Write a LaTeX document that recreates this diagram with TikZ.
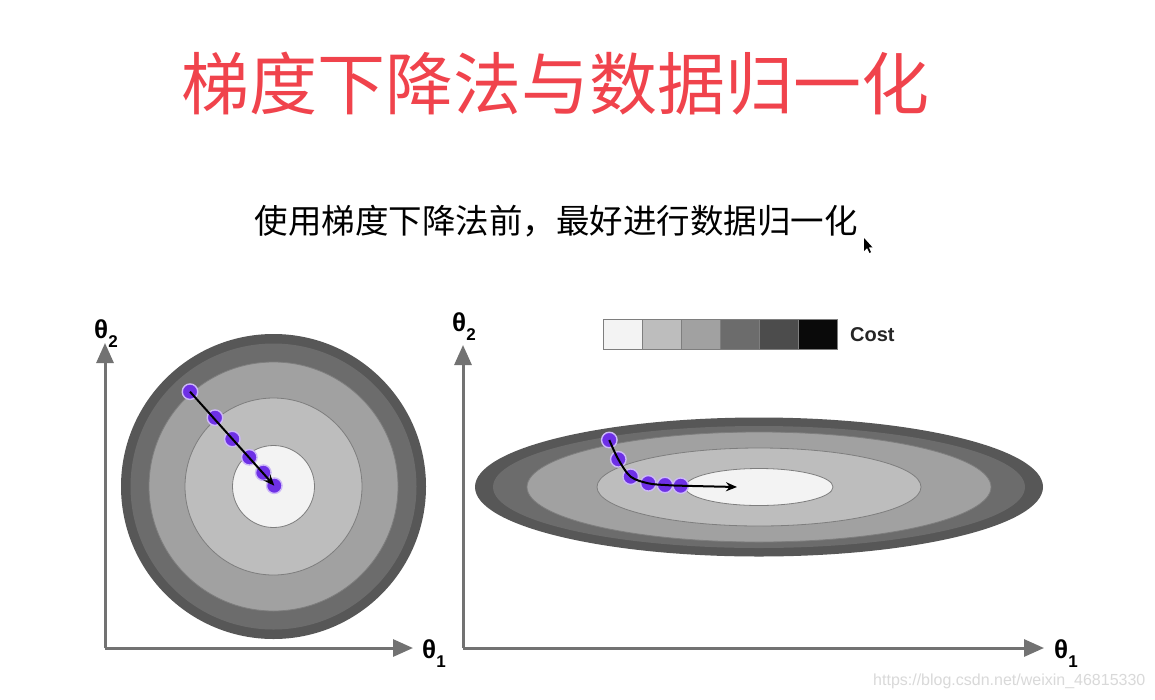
\documentclass[tikz,border=0pt]{standalone}
\usepackage{fontspec}
\newfontfamily\cjk{Noto Sans CJK SC}
\newfontfamily\arialf{Liberation Sans}
\usetikzlibrary{arrows.meta}
\definecolor{titlered}{HTML}{F0434C}
\definecolor{axisgray}{HTML}{727272}
\definecolor{ringline}{HTML}{7E7E7E}
\definecolor{gA}{HTML}{F3F3F3}
\definecolor{gB}{HTML}{BDBDBD}
\definecolor{gC}{HTML}{A1A1A1}
\definecolor{gD}{HTML}{6C6C6C}
\definecolor{gE}{HTML}{4C4C4C}
\definecolor{gF}{HTML}{0A0A0A}
\definecolor{gOut}{HTML}{575757}
\definecolor{dotpurple}{HTML}{6E30E6}
\definecolor{dothalo}{HTML}{CDB8F8}
\definecolor{wmgray}{HTML}{D9D9D9}
\newcommand{\thetalab}[1]{{\arialf\bfseries\fontsize{26pt}{26pt}\selectfont θ\raisebox{-0.38em}{\fontsize{17pt}{17pt}\selectfont #1}}}
\begin{document}
\begin{tikzpicture}[x=1pt,y=-1pt,
  axis/.style={draw=axisgray, line width=3pt, -{Triangle[length=20pt,width=17pt]}},
  ring/.style={draw=ringline, line width=0.8pt},
  dot/.style={circle, fill=dotpurple, draw=dothalo, line width=1.4pt, minimum size=15.5pt, inner sep=0pt},
  path/.style={draw=black, line width=2pt, -{Stealth[length=11pt,width=9pt]}},
  cell/.style={draw=ringline, line width=0.8pt, minimum width=39pt, minimum height=30pt, inner sep=0pt},
  lab/.style={anchor=base west, inner sep=0pt}
]
\useasboundingbox[fill=white] (0,0) rectangle (1155,699);

% titles
\node[text=titlered, font=\cjk\fontsize{68pt}{68pt}\selectfont, inner sep=0pt] (title) at (555,84) {梯度下降法与数据归一化};
\node[text=black, font=\cjk\fontsize{33.5pt}{33.5pt}\selectfont, inner sep=0pt] (sub) at (556,221) {使用梯度下降法前，最好进行数据归一化};
% mouse cursor
\fill[black] (864,238) -- (864,251) -- (867,248) -- (869.5,253) -- (871,252.2) -- (868.8,247.4) -- (872.5,247.4) -- cycle;

% ---------------- left plot ----------------
\coordinate (L) at (273.5,486.5);
\fill[gOut] (L) circle[radius=152.5pt];
\fill[gD] (L) circle[radius=143pt];
\filldraw[fill=gC, ring] (L) circle[radius=124.5pt];
\filldraw[fill=gB, ring] (L) circle[radius=88.5pt];
\filldraw[fill=gA, ring] (L) circle[radius=41pt];

\coordinate (lo) at (105,648);
\coordinate (ly) at (105,343);
\coordinate (lx) at (413,648);
\draw[axis] (lo) -- (ly);
\draw[axis] (lo) -- (lx);
\node[lab] (lt2) at (94,338) {\thetalab{2}};
\node[lab] (lt1) at (422,658) {\thetalab{1}};

\node[dot] (p1) at (190,391.7) {};
\node[dot] (p2) at (215,417.7) {};
\node[dot] (p3) at (232.3,439) {};
\node[dot] (p4) at (249.3,457.3) {};
\node[dot] (p5) at (263.3,472.7) {};
\node[dot] (p6) at (274.3,485.7) {};
\draw[path] (p1.center) -- (p6.center);

% ---------------- right plot ----------------
\coordinate (R) at (759,487);
\fill[gOut] (R) ellipse[x radius=284pt, y radius=69.5pt];
\fill[gD] (R) ellipse[x radius=266pt, y radius=61pt];
\filldraw[fill=gC, ring] (R) ellipse[x radius=232pt, y radius=55pt];
\filldraw[fill=gB, ring] (R) ellipse[x radius=162pt, y radius=39pt];
\filldraw[fill=gA, ring] (R) ellipse[x radius=74pt, y radius=18.5pt];

\coordinate (ro) at (463,648);
\coordinate (ry) at (463,345);
\coordinate (rx) at (1044,648);
\draw[axis] (ro) -- (ry);
\draw[axis] (ro) -- (rx);
\node[lab] (rt2) at (452,331) {\thetalab{2}};
\node[lab] (rt1) at (1054,658) {\thetalab{1}};

\node[dot] (q1) at (609.3,440) {};
\node[dot] (q2) at (618.3,459.3) {};
\node[dot] (q3) at (630.7,476.7) {};
\node[dot] (q4) at (648.3,483.3) {};
\node[dot] (q5) at (665,485) {};
\node[dot] (q6) at (680.7,485.7) {};
\coordinate (qend) at (737,487);
\draw[path] plot[smooth, tension=0.55] coordinates {(q1.center) (q2.center) (q3.center) (q4.center) (q5.center) (q6.center) (qend)};

% colour bar
\node[cell, fill=gA] (c1) at (622.5,334) {};
\node[cell, fill=gB] (c2) at (661.5,334) {};
\node[cell, fill=gC] (c3) at (700.5,334) {};
\node[cell, fill=gD] (c4) at (739.5,334) {};
\node[cell, fill=gE] (c5) at (778.5,334) {};
\node[cell, fill=gF] (c6) at (817.5,334) {};
\node[anchor=west, inner sep=0pt, font=\arialf\bfseries\fontsize{20pt}{20pt}\selectfont, text=black!85] (cost) at (850,335) {Cost};

% watermark
\node[anchor=west, inner sep=0pt, text=wmgray, font=\arialf\fontsize{16pt}{16pt}\selectfont] (wm) at (873,681) {https://blog.csdn.net/weixin\_46815330};
\end{tikzpicture}
\end{document}
